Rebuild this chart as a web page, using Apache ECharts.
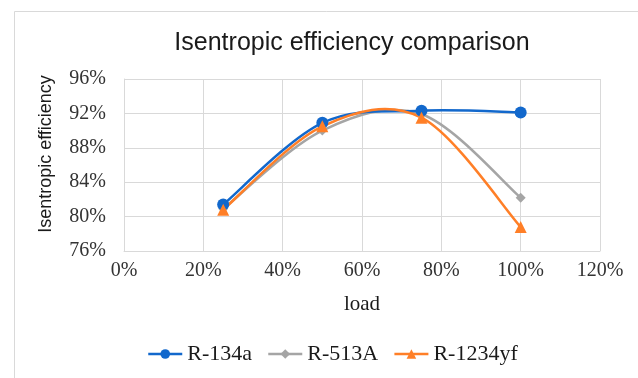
<!DOCTYPE html>
<html>
<head>
<meta charset="utf-8">
<script src="https://cdn.jsdelivr.net/npm/echarts@6/dist/echarts.min.js"></script>
<style>
  html, body { margin: 0; padding: 0; background: #fff; }
  #chart { width: 638px; height: 378px; }
</style>
</head>
<body>
<div id="chart"></div>
<script>
// Load levels (%) and isentropic efficiency (%) per refrigerant
const loads = [25, 50, 75, 100];
const r134a = [81.4, 90.9, 92.3, 92.1];
const r513a = [80.9, 90.0, 91.9, 82.2];
const r1234yf = [80.8, 90.5, 91.5, 78.8];
const seriesNames = ['R-134a', 'R-513A', 'R-1234yf'];
const colors = ['#1268CC', '#A5A5A5', '#FF7F27'];

const serif = 'Liberation Serif';
const sans = 'Liberation Sans';
const gridColor = '#D9D9D9';
const lineWidth = 2.5;

const pair = (vals) => loads.map((x, i) => [x, vals[i]]);

// Cardinal (Catmull-Rom style) bezier through the points, converted to
// pixels by the cartesian axes; it may overshoot between points.
function curvePath(api, vals) {
  const pts = loads.map((x, i) => api.coord([x, vals[i]]));
  const n = pts.length;
  const P = (i) => pts[Math.max(0, Math.min(n - 1, i))];
  let d = 'M' + pts[0][0] + ' ' + pts[0][1];
  for (let i = 0; i < n - 1; i++) {
    const p0 = P(i - 1), p1 = P(i), p2 = P(i + 1), p3 = P(i + 2);
    const c1x = p1[0] + (p2[0] - p0[0]) / 6;
    const c1y = p1[1] + (p2[1] - p0[1]) / 6;
    const c2x = p2[0] - (p3[0] - p1[0]) / 6;
    const c2y = p2[1] - (p3[1] - p1[1]) / 6;
    d += ' C' + c1x + ' ' + c1y + ' ' + c2x + ' ' + c2y + ' ' + p2[0] + ' ' + p2[1];
  }
  return d;
}

function curveSeries(vals, color, z) {
  return {
    type: 'custom',
    coordinateSystem: 'cartesian2d',
    data: [[loads[0], vals[0]]],
    silent: true,
    z: z,
    clip: false,
    renderItem: (params, api) => ({
      type: 'path',
      shape: { pathData: curvePath(api, vals) },
      style: { fill: 'none', stroke: color, lineWidth: lineWidth, lineJoin: 'round', lineCap: 'round' }
    })
  };
}

function markerSeries(name, vals, color, symbol, size, z) {
  return {
    name: name, type: 'line', data: pair(vals),
    symbol: symbol, symbolSize: size,
    lineStyle: { width: lineWidth, color: color, opacity: 0 },
    itemStyle: { color: color },
    z: z
  };
}

const chart = echarts.init(document.getElementById('chart'), null, { renderer: 'canvas' });

chart.setOption({
  animation: false,
  backgroundColor: '#fff',
  color: colors,
  graphic: [{
    type: 'rect',
    left: 12, top: 9,
    shape: { width: 700, height: 420 },
    style: { fill: 'none', stroke: gridColor, lineWidth: 1 },
    silent: true
  }],
  title: {
    text: 'Isentropic efficiency comparison',
    left: 347, textAlign: 'center',
    top: 26,
    textStyle: { fontFamily: sans, fontSize: 25, fontWeight: 'normal', color: '#1a1a1a' }
  },
  grid: { left: 124, right: 38, top: 79, bottom: 127 },
  xAxis: {
    type: 'value',
    min: 0, max: 120, interval: 20,
    name: 'load',
    nameLocation: 'middle',
    nameGap: 43,
    nameTextStyle: { fontFamily: serif, fontSize: 21, color: '#1a1a1a' },
    axisLine: { show: true, lineStyle: { color: gridColor, width: 1 } },
    axisTick: { show: false },
    axisLabel: { formatter: '{value}%', fontFamily: serif, fontSize: 20, color: '#333', margin: 10 },
    splitLine: { show: true, lineStyle: { color: gridColor, width: 1 } }
  },
  yAxis: {
    type: 'value',
    min: 76, max: 96, interval: 4,
    name: 'Isentropic efficiency',
    nameLocation: 'middle',
    nameGap: 69,
    nameTextStyle: { fontFamily: sans, fontSize: 18, color: '#1a1a1a', padding: [0, 0, 0, 22] },
    axisLine: { show: true, lineStyle: { color: gridColor, width: 1 } },
    axisTick: { show: false },
    axisLabel: { formatter: '{value}%', fontFamily: serif, fontSize: 20, color: '#333', margin: 18 },
    splitLine: { show: true, lineStyle: { color: gridColor, width: 1 } }
  },
  legend: {
    left: 147, top: 343, padding: 0,
    itemWidth: 34, itemHeight: 12, itemGap: 15,
    textStyle: { fontFamily: serif, fontSize: 22, color: '#1a1a1a' },
    data: seriesNames.map((name, i) => ({
      name: name,
      lineStyle: { color: colors[i], width: lineWidth, opacity: 1 }
    }))
  },
  series: [
    curveSeries(r513a, colors[1], 2),
    curveSeries(r134a, colors[0], 2),
    curveSeries(r1234yf, colors[2], 2),
    markerSeries(seriesNames[1], r513a, colors[1], 'diamond', 10, 3),
    markerSeries(seriesNames[0], r134a, colors[0], 'circle', 12, 3),
    markerSeries(seriesNames[2], r1234yf, colors[2], 'triangle', 12, 3)
  ]
});
</script>
</body>
</html>
